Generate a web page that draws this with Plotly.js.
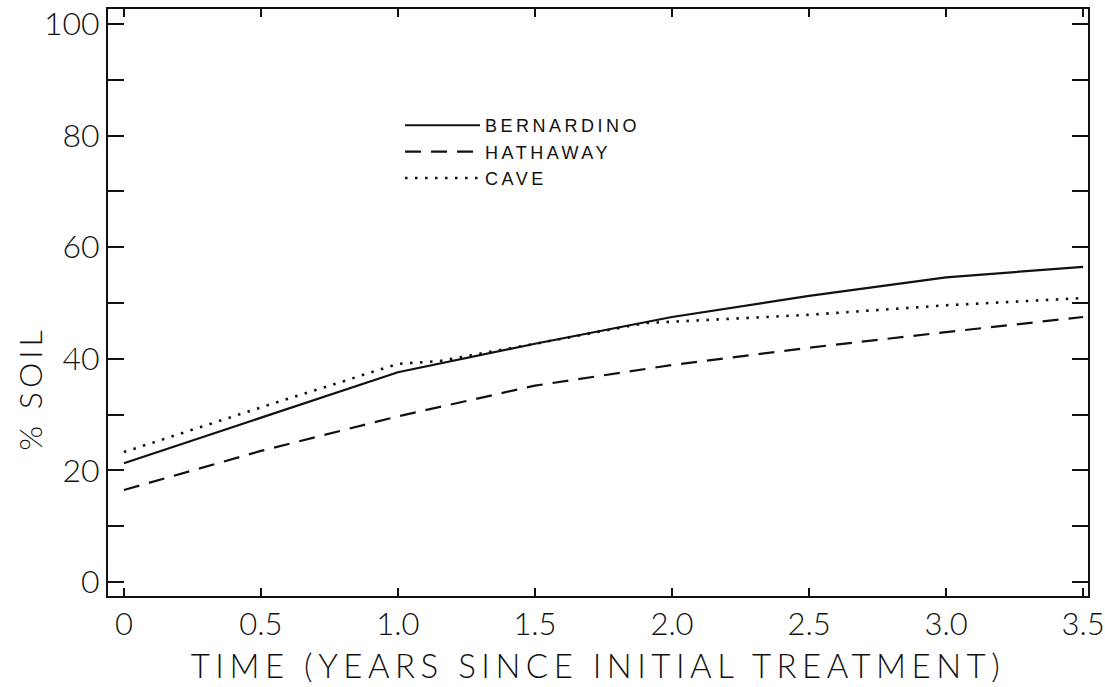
<!DOCTYPE html>
<html>
<head>
<meta charset="utf-8">
<script src="https://cdn.plot.ly/plotly-3.0.1.min.js"></script>
<style>
  body { margin: 0; background: #fff; }
  #plot { width: 1105px; height: 687px; }
  .legendtext { letter-spacing: 3.5px; }
  .xtitle { letter-spacing: 5.5px; }
  .annotation-text { letter-spacing: 4px; }
</style>
</head>
<body>
<div id="plot"></div>
<script>
// years since initial treatment
var years = [0, 0.5, 1.0, 1.5, 2.0, 2.5, 3.0, 3.5];
var bernardino = [21.3, 29.4, 37.6, 42.7, 47.5, 51.3, 54.6, 56.5];
var hathaway = [16.5, 23.5, 29.7, 35.2, 38.9, 42.0, 44.8, 47.5];

var caveYears = [0, 0.5, 1.0, 1.15, 1.5, 1.9, 2.5, 3.0, 3.5];
var cave = [23.3, 31.3, 39.1, 39.6, 42.7, 46.4, 47.9, 49.6, 50.9];

var xTicks = [0, 0.5, 1.0, 1.5, 2.0, 2.5, 3.0, 3.5];
var xTickText = ["0", "0.5", "1.0", "1.5", "2.0", "2.5", "3.0", "3.5"];
var yTicks = [0, 20, 40, 60, 80, 100];

var trace1 = {
  x: years, y: bernardino, name: "BERNARDINO",
  type: "scatter", mode: "lines",
  line: { color: "#111", width: 2.2 }
};
var trace2 = {
  x: years, y: hathaway, name: "HATHAWAY",
  type: "scatter", mode: "lines",
  line: { color: "#111", width: 2.2, dash: "16px,10px" }
};
var trace3 = {
  x: caveYears, y: cave, name: "CAVE",
  type: "scatter", mode: "lines",
  line: { color: "#111", width: 2.6, dash: "2.5px,7.5px" }
};

var data = [trace1, trace2, trace3];

var font = "Lato, Liberation Sans, Arial, sans-serif";

var layout = {
  width: 1105, height: 687,
  margin: { l: 108, r: 17, t: 9, b: 91 },
  paper_bgcolor: "#fff", plot_bgcolor: "#fff",
  showlegend: true,
  legend: {
    x: 0.298, y: 0.833, xanchor: "left", yanchor: "top",
    bgcolor: "rgba(0,0,0,0)",
    font: { family: "Liberation Sans, Arial, sans-serif", size: 18, color: "#111" },
    itemwidth: 75
  },
  xaxis: {
    range: [-0.058, 3.518],
    tickvals: xTicks, ticktext: xTickText,
    ticks: "inside", ticklen: 8, tickwidth: 1.5, tickcolor: "#111",
    showline: true, linecolor: "#111", linewidth: 2, mirror: "ticks",
    showgrid: false, zeroline: false,
    tickfont: { family: font, size: 31, color: "#111", weight: 300 },
    title: { text: "TIME (YEARS SINCE INITIAL TREATMENT)", standoff: 14,
             font: { family: font, size: 33, color: "#111", weight: 300 } }
  },
  yaxis: {
    range: [-2.5, 102.7],
    tickvals: yTicks,
    ticks: "inside", ticklen: 16, tickwidth: 2, tickcolor: "#111",
    minor: { dtick: 10, ticks: "inside", ticklen: 16, tickwidth: 2, tickcolor: "#111" },
    showline: true, linecolor: "#111", linewidth: 2, mirror: "ticks",
    showgrid: false, zeroline: false,
    tickfont: { family: font, size: 32, color: "#111", weight: 300 }
  },
  annotations: [{
    text: "% SOIL", textangle: -90, showarrow: false,
    xref: "paper", yref: "paper", x: -0.08, y: 0.354,
    xanchor: "center", yanchor: "middle",
    font: { family: font, size: 32, color: "#111", weight: 300 }
  }]
};

Plotly.newPlot("plot", data, layout, { displayModeBar: false, staticPlot: true });
</script>
</body>
</html>
